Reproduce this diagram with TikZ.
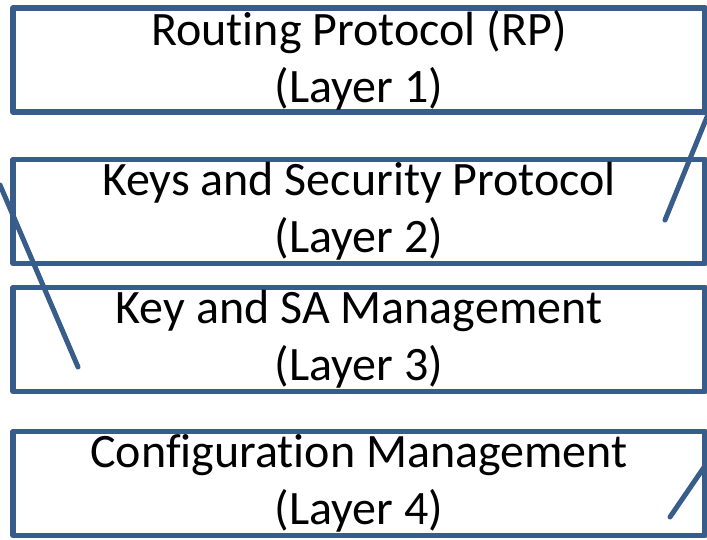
\documentclass[tikz,border=0pt]{standalone}
\usepackage{fontspec}
\setmainfont{Carlito}[Ligatures=NoCommon]
\definecolor{boxblue}{HTML}{385D8A}
\begin{document}
\begin{tikzpicture}[x=1pt,y=-1pt,line join=round,line cap=round,
	layerbox/.style={draw=boxblue,line width=5.5pt,minimum width=692pt,minimum height=104pt,inner sep=0pt,align=center,font=\fontsize{48}{57}\selectfont},
	slash/.style={draw=boxblue,line width=5pt}]
	\useasboundingbox (0,0) rectangle (707,539);
	\path
	(0,185) coordinate (P1)
	(78,367) coordinate (P2)
	(709,112) coordinate (Q1)
	(665,220) coordinate (Q2)
	(709,460) coordinate (R1)
	(670,517) coordinate (R2)
	;
	\foreach \k/\y/\txt in {1/60/Routing Protocol (RP),2/211.5/Keys and Security Protocol,3/339.5/Key and SA Management,4/483.5/Configuration Management}
	\node[layerbox] (L\k) at (359,\y) {\txt\\(Layer \k)};
	\draw[slash] (P1)--(P2) (Q1)--(Q2) (R1)--(R2);
\end{tikzpicture}
\end{document}
